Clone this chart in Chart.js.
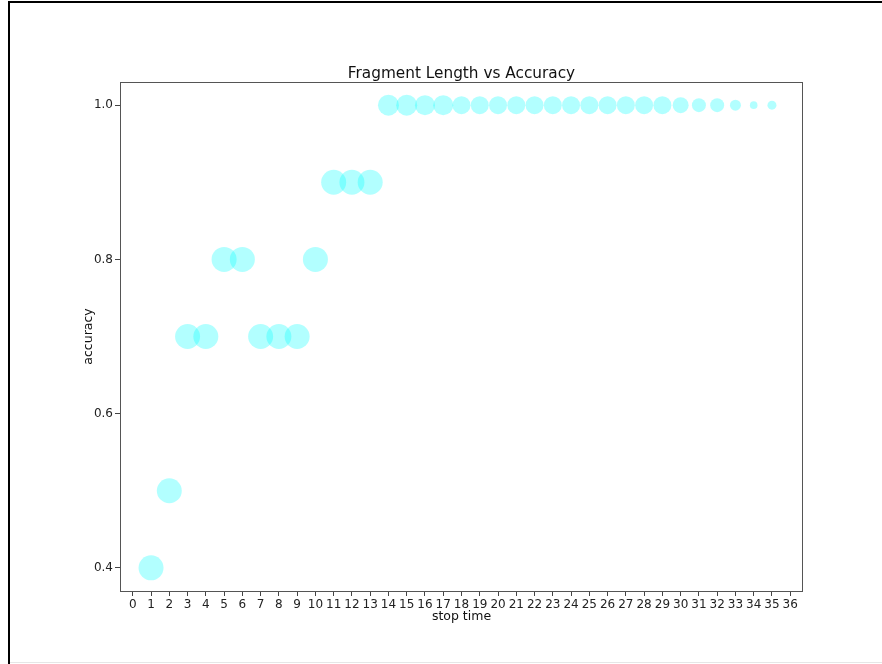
<!DOCTYPE html>
<html><head><meta charset="utf-8">
<script src="https://cdn.jsdelivr.net/npm/chart.js@4/dist/chart.umd.min.js"></script>
<style>html,body{margin:0;padding:0;background:#fff;overflow:hidden}</style>
</head><body>
<canvas id="c" width="882" height="664"></canvas>
<script>
// ---- data ----
const stopTimes = [1,2,3,4,5,6,7,8,9,10,11,12,13,14,15,16,17,18,19,20,21,22,23,24,25,26,27,28,29,30,31,32,33,34,35];
const accuracy  = [0.4,0.5,0.7,0.7,0.8,0.8,0.7,0.7,0.7,0.8,0.9,0.9,0.9,1.0,1.0,1.0,1.0,1.0,1.0,1.0,1.0,1.0,1.0,1.0,1.0,1.0,1.0,1.0,1.0,1.0,1.0,1.0,1.0,1.0,1.0];
const markerRadius = [12.5,12.5,12.5,12.5,12.5,12.5,12.5,12.5,12.5,12.5,12.5,12.5,12.5,10.5,10.5,10,10,9,9,9,9,9,9,9,9,9,9,9,9,8,7,7,5.5,3.8,4.5];
const xTickValues = [0,1,2,3,4,5,6,7,8,9,10,11,12,13,14,15,16,17,18,19,20,21,22,23,24,25,26,27,28,29,30,31,32,33,34,35,36];
const yTickValues = [0.4,0.6,0.8,1.0];
const chartTitle = 'Fragment Length vs Accuracy';
const xTitle = 'stop time';
const yTitle = 'accuracy';

const points = stopTimes.map((x, i) => ({x: x, y: accuracy[i], r: markerRadius[i]}));

const FONT = 'DejaVu Sans';
const frame = {
  id: 'frame',
  beforeDraw(chart) {
    const ctx = chart.ctx;
    ctx.save();
    ctx.fillStyle = '#fff';
    ctx.fillRect(0, 0, chart.width, chart.height);
    // outer screenshot border
    ctx.fillStyle = '#000';
    ctx.fillRect(8, 1, 874, 2);
    ctx.fillRect(8, 1, 2, 663);
    ctx.fillStyle = '#e6e6e6';
    ctx.fillRect(10, 662, 872, 1);
    ctx.restore();
  },
  afterDraw(chart) {
    const ctx = chart.ctx;
    const a = chart.chartArea;
    ctx.save();
    ctx.strokeStyle = '#555';
    ctx.lineWidth = 1;
    ctx.strokeRect(Math.round(a.left) + 0.5, Math.round(a.top) + 0.5, Math.round(a.right - a.left) - 1, Math.round(a.bottom - a.top));
    ctx.fillStyle = '#111';
    ctx.font = '15.3px "' + FONT + '"';
    ctx.textAlign = 'center';
    ctx.textBaseline = 'alphabetic';
    ctx.fillText(chartTitle, (a.left + a.right) / 2, 78);
    ctx.restore();
  }
};

new Chart(document.getElementById('c'), {
  type: 'bubble',
  data: {
    datasets: [{
      data: points,
      backgroundColor: 'rgba(0,255,255,0.3)',
      borderWidth: 0,
      hoverBorderWidth: 0
    }]
  },
  options: {
    responsive: false,
    animation: false,
    devicePixelRatio: 1,
    layout: {padding: {left: 0, top: 82, right: 79, bottom: 0}},
    plugins: {legend: {display: false}, tooltip: {enabled: false}, title: {display: false}},
    scales: {
      x: {
        type: 'linear',
        min: -0.7, max: 36.7,
        afterBuildTicks: s => { s.ticks = xTickValues.map(v => ({value: v})); },
        afterFit: s => { s.height = 73; },
        border: {display: false},
        grid: {drawOnChartArea: false, drawTicks: true, tickLength: 5, tickColor: '#444', lineWidth: 1},
        ticks: {color: '#222', font: {family: FONT, size: 12}, padding: 2, maxRotation: 0, autoSkip: false,
                callback: v => String(v)},
        title: {display: true, text: xTitle, color: '#111', font: {family: FONT, size: 12.5}, padding: {top: 0, bottom: 40}}
      },
      y: {
        type: 'linear',
        min: 0.37, max: 1.03,
        afterBuildTicks: s => { s.ticks = yTickValues.map(v => ({value: v})); },
        afterFit: s => { s.width = 120; },
        border: {display: false},
        grid: {drawOnChartArea: false, drawTicks: true, tickLength: 5, tickColor: '#444', lineWidth: 1},
        ticks: {color: '#222', font: {family: FONT, size: 12}, padding: 2,
                callback: v => Number(v).toFixed(1)},
        title: {display: true, text: yTitle, color: '#111', font: {family: FONT, size: 12.5}, padding: {top: 81, bottom: 0}}
      }
    }
  },
  plugins: [frame]
});
</script>
</body></html>
